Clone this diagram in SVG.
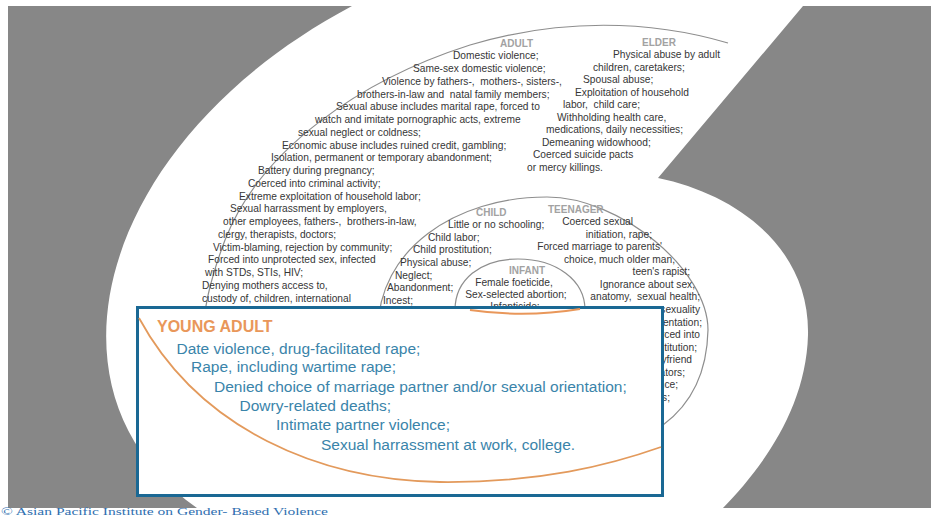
<svg xmlns="http://www.w3.org/2000/svg" width="931" height="517" viewBox="0 0 931 517">
<style>
.t{font-family:"Liberation Sans",Arial,sans-serif;font-size:10.2px;fill:#363636}
.lbl{font-family:"Liberation Sans",Arial,sans-serif;font-size:10px;font-weight:bold;fill:#a2a2a2}
.arc{fill:none;stroke:#8e8e8e;stroke-width:1.2}
.ya{font-family:"Liberation Sans",Arial,sans-serif;font-size:15.5px;fill:#3a84aa}
.yat{font-family:"Liberation Sans",Arial,sans-serif;font-size:16px;font-weight:bold;fill:#e9975a}
.e{text-anchor:end}
.m{text-anchor:middle}
</style>
<rect width="931" height="517" fill="#ffffff"/>
<g id="background">
<rect x="8" y="6" width="923" height="502" fill="#878787"/>
<path d="M352,6 L803,6 L658,178 C740,195 810,250 808,335 C806,410 760,470 723,508 L197,508 C30,390 100,140 352,6 Z" fill="#ffffff"/>
</g>
<g id="connectors">
<path class="arc" d="M728,43 C650,20 560,18 470,45 C360,80 260,150 225,240 C210,280 203,310 203,340"/>
<path class="arc" d="M378,330 C378,250 455,197 547,197 C620,197 708,270 708,330 C707,375 690,405 663,425"/>
<path class="arc" d="M455,310 C455,280 480,259 518,259 C556,259 585,280 585,310"/>
</g>
<g id="adult">
<text class="lbl" x="500" y="46.5">ADULT</text>
<text class="t" x="453" y="59.3">Domestic violence;</text>
<text class="t" x="413" y="72">Same-sex domestic violence;</text>
<text class="t" x="382" y="84.8" xml:space="preserve">Violence by fathers-,  mothers-, sisters-,</text>
<text class="t" x="357" y="97.5" xml:space="preserve">brothers-in-law and  natal family members;</text>
<text class="t" x="336" y="110.3">Sexual abuse includes marital rape, forced to</text>
<text class="t" x="315" y="123">watch and imitate pornographic acts, extreme</text>
<text class="t" x="298" y="135.8">sexual neglect or coldness;</text>
<text class="t" x="282" y="148.5">Economic abuse includes ruined credit, gambling;</text>
<text class="t" x="271" y="161.3">Isolation, permanent or temporary abandonment;</text>
<text class="t" x="258" y="174">Battery during pregnancy;</text>
<text class="t" x="248" y="186.8">Coerced into criminal activity;</text>
<text class="t" x="239" y="199.5">Extreme exploitation of household labor;</text>
<text class="t" x="230" y="212.3">Sexual harrassment by employers,</text>
<text class="t" x="223" y="225" xml:space="preserve">other employees, fathers-,  brothers-in-law,</text>
<text class="t" x="218" y="237.8">clergy, therapists, doctors;</text>
<text class="t" x="213" y="250.5">Victim-blaming, rejection by community;</text>
<text class="t" x="208" y="263.3">Forced into unprotected sex, infected</text>
<text class="t" x="205" y="276">with STDs, STIs, HIV;</text>
<text class="t" x="202" y="288.8">Denying mothers access to,</text>
<text class="t" x="202" y="301.5">custody of, children, international</text>
<text class="t" x="202" y="314.3">abduction/kidnapping;</text>
</g>
<g id="elder">
<text class="lbl" x="642" y="45.5">ELDER</text>
<text class="t" x="613" y="58">Physical abuse by adult</text>
<text class="t" x="593" y="70.5">children, caretakers;</text>
<text class="t" x="583" y="83">Spousal abuse;</text>
<text class="t" x="575" y="95.5">Exploitation of household</text>
<text class="t" x="563" y="108" xml:space="preserve">labor,  child care;</text>
<text class="t" x="557" y="120.5">Withholding health care,</text>
<text class="t" x="546" y="133">medications, daily necessities;</text>
<text class="t" x="542" y="145.5">Demeaning widowhood;</text>
<text class="t" x="533" y="158">Coerced suicide pacts</text>
<text class="t" x="527" y="170.5">or mercy killings.</text>
</g>
<g id="child">
<text class="lbl" x="476" y="215.5">CHILD</text>
<text class="t" x="448" y="228.1">Little or no schooling;</text>
<text class="t" x="428" y="240.7">Child labor;</text>
<text class="t" x="413" y="253.3">Child prostitution;</text>
<text class="t" x="400" y="265.9">Physical abuse;</text>
<text class="t" x="395" y="278.5">Neglect;</text>
<text class="t" x="387" y="291.1">Abandonment;</text>
<text class="t" x="383" y="303.7">Incest;</text>
</g>
<g id="teenager">
<text class="lbl" x="548" y="212.5">TEENAGER</text>
<text class="t e" x="633" y="225.1">Coerced sexual</text>
<text class="t e" x="652" y="237.6">initiation, rape;</text>
<text class="t e" x="662" y="250.2">Forced marriage to parents'</text>
<text class="t e" x="675" y="262.7">choice, much older man,</text>
<text class="t e" x="690" y="275.3">teen's rapist;</text>
<text class="t e" x="695" y="287.8">Ignorance about sex,</text>
<text class="t e" x="700" y="300.4" xml:space="preserve">anatomy,  sexual health;</text>
<text class="t e" x="700" y="312.9">sexuality</text>
<text class="t e" x="702" y="325.5">entation;</text>
<text class="t e" x="700" y="338">rced into</text>
<text class="t e" x="697" y="350.6">titution;</text>
<text class="t e" x="692" y="363.1">yfriend</text>
<text class="t e" x="685" y="375.7">ators;</text>
<text class="t e" x="678" y="388.2">nce;</text>
<text class="t e" x="670" y="400.8">s;</text>
</g>
<g id="infant">
<text class="lbl m" x="527" y="273.5">INFANT</text>
<text class="t m" x="514" y="285.5">Female foeticide,</text>
<text class="t m" x="516" y="297.5">Sex-selected abortion;</text>
<text class="t m" x="515" y="309.5">Infanticide;</text>
</g>
<g id="young-adult">
<rect x="137.5" y="307.5" width="525" height="188" fill="#ffffff" stroke="#1a6894" stroke-width="3"/>
<path d="M470,310 Q525,318 580,309" fill="none" stroke="#e9975a" stroke-width="2"/>
<path d="M139,318 C200,430 320,480 440,482 C540,483 610,465 661,447" fill="none" stroke="#e39a5c" stroke-width="1.8"/>
<text class="yat" x="157" y="332">YOUNG ADULT</text>
<text class="ya" x="176.5" y="353.5">Date violence, drug-facilitated rape;</text>
<text class="ya" x="191" y="372">Rape, including wartime rape;</text>
<text class="ya" x="214" y="391.5">Denied choice of marriage partner and/or sexual orientation;</text>
<text class="ya" x="239.5" y="410.5">Dowry-related deaths;</text>
<text class="ya" x="276" y="430">Intimate partner violence;</text>
<text class="ya" x="321" y="449.5">Sexual harrassment at work, college.</text>
</g>
<g id="copyright">
<text x="1" y="514.6" font-family="'Liberation Serif',serif" font-size="11" fill="#2f6fb0" textLength="327" lengthAdjust="spacingAndGlyphs">© Asian Pacific Institute on Gender- Based Violence</text>
</g>
</svg>
